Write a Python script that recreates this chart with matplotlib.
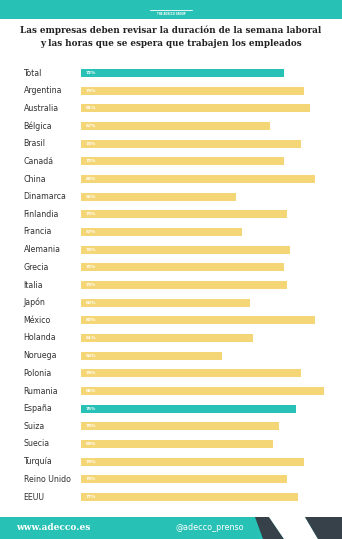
import matplotlib
matplotlib.use("Agg")
import matplotlib.pyplot as plt
from matplotlib.patches import Rectangle, Polygon

countries = ["Total", "Argentina", "Australia", "Bélgica", "Brasil", "Canadá", "China",
             "Dinamarca", "Finlandia", "Francia", "Alemania", "Grecia", "Italia", "Japón",
             "México", "Holanda", "Noruega", "Polonia", "Rumania", "España", "Suiza",
             "Suecia", "Turquía", "Reino Unido", "EEUU"]
values = [72, 79, 81, 67, 78, 72, 83, 55, 73, 57, 74, 72, 73, 60, 83, 61, 50, 78, 86,
          76, 70, 68, 79, 73, 77]
highlight = ["Total", "España"]

TEAL = "#27c1b5"
YELLOW = "#f5d677"
DARK = "#36414a"

W, H = 342, 539
fig = plt.figure(figsize=(W / 100, H / 100), dpi=100)
fig.patch.set_facecolor("white")

def fx(px):
    return px / W

def fy(py):
    return 1 - py / H

def poly(pts, color):
    fig.patches.append(Polygon([(fx(a), fy(b)) for a, b in pts], closed=True,
                               transform=fig.transFigure, facecolor=color,
                               edgecolor="none"))

# header band
fig.patches.append(Rectangle((0, fy(19)), 1, 19 / H, transform=fig.transFigure,
                             facecolor=TEAL, edgecolor="none", zorder=0))
fig.lines.append(plt.Line2D([fx(150), fx(192)], [fy(10), fy(10)], transform=fig.transFigure,
                            color="white", lw=0.6))
fig.text(0.5, fy(14), "THE ADECCO GROUP", color="white", fontsize=1.8, ha="center",
         va="center", fontweight="bold")

# title
fig.text(0.5, fy(30), "Las empresas deben revisar la duración de la semana laboral",
         ha="center", va="center", fontsize=6.3, fontweight="bold", family="DejaVu Serif",
         color="#222222")
fig.text(0.5, fy(43.5), "y las horas que se espera que trabajen los empleados",
         ha="center", va="center", fontsize=6.3, fontweight="bold", family="DejaVu Serif",
         color="#222222")

# bar chart axes
row_top, row_bot = 73, 497
n = len(countries)
step = (row_bot - row_top) / (n - 1)
ax_top = row_top - step / 2
ax_bot = row_bot + step / 2
x0 = 80.5
px_per = 2.83
xmax = 90
ax = fig.add_axes([fx(x0), fy(ax_bot), xmax * px_per / W, (ax_bot - ax_top) / H])
ax.set_xlim(0, xmax)
ax.set_ylim(n - 0.5, -0.5)
ax.axis("off")

ypos = list(range(n))
colors = [TEAL if c in highlight else YELLOW for c in countries]
ax.barh(ypos, values, height=0.44, color=colors, edgecolor="none")
for y, v, c in zip(ypos, values, countries):
    ax.text(1.8, y, f"{v}%", color="white", fontsize=3.2, va="center", ha="left",
            fontweight="bold")
    fig.text(fx(23.5), fy(row_top + y * step), c, fontsize=5.7, color="#333333",
             va="center", ha="left")

# footer
fig.patches.append(Rectangle((0, 0), 1, (H - 517) / H, transform=fig.transFigure,
                             facecolor=TEAL, edgecolor="none", zorder=0))
poly([(255, 517), (269, 517), (284, 539), (263, 539)], DARK)
poly([(269, 517), (305, 517), (318, 539), (284, 539)], "white")
poly([(305, 517), (342, 517), (342, 539), (318, 539)], DARK)
fig.text(fx(16), fy(528), "www.adecco.es", color="white", fontsize=6.5,
         fontweight="bold", family="DejaVu Serif", va="center", ha="left")
fig.text(fx(176), fy(528), "@adecco_prenso", color="white", fontsize=5.8,
         va="center", ha="left")

fig.savefig("out.png", dpi=100, facecolor="white")
